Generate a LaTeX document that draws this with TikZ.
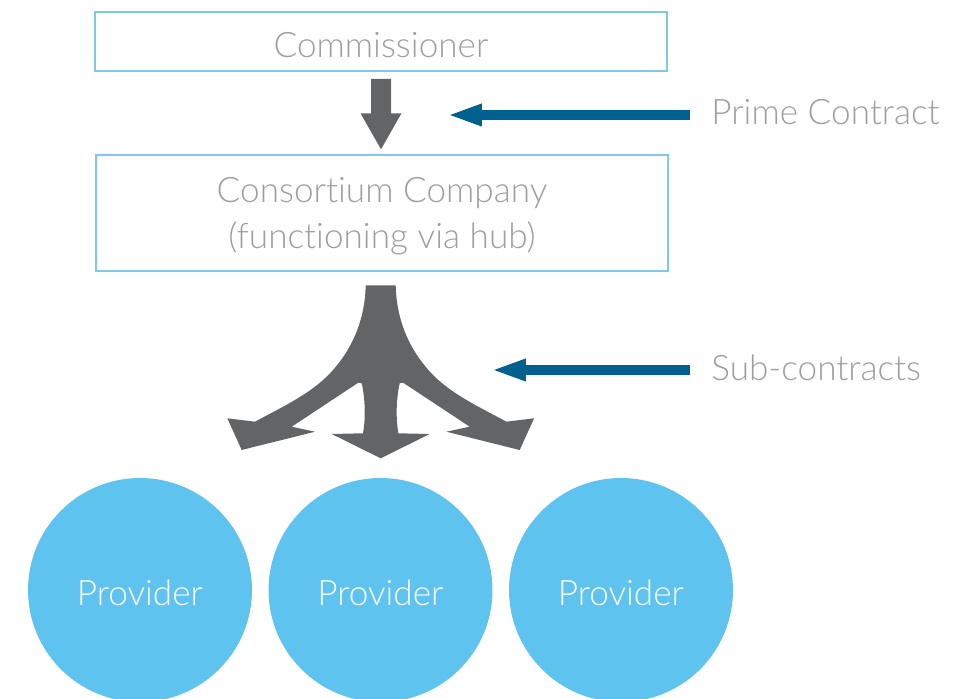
\documentclass[tikz,border=0pt]{standalone}
\usepackage{fontspec}
\setmainfont{Lato}[UprightFont=* Light, Ligatures=NoCommon]
\usetikzlibrary{arrows.meta}
\definecolor{boxline}{RGB}{125,201,236}
\definecolor{labelgrey}{RGB}{158,158,160}
\definecolor{arrowgrey}{RGB}{99,100,102}
\definecolor{contractblue}{RGB}{0,96,142}
\definecolor{providerblue}{RGB}{94,195,238}
\tikzset{
  partybox/.style={draw=boxline, line width=0.8pt, minimum width=11.44cm, text=labelgrey, align=center, font=\fontsize{20}{26.6}\selectfont},
  provider/.style={circle, fill=providerblue, minimum size=4.48cm, inner sep=0pt, text=white, text height=18pt, font=\fontsize{20}{24}\selectfont},
  contractlabel/.style={anchor=west, inner xsep=0.42cm, text=labelgrey, font=\fontsize{20}{24}\selectfont},
  contractarrow/.style={draw=contractblue, line width=0.19cm, -{Triangle[length=0.7cm, width=0.4cm]}}
}
\begin{document}
\begin{tikzpicture}[x=0.02cm, y=-0.02cm]
        \useasboundingbox (0,0) rectangle (957,699);
        \clip (0,0) rectangle (957,699);
        %boxes
        \node[partybox, minimum height=1.18cm, text height=18pt] (comm) at (381,41.5) {Commissioner};
        \node[partybox, minimum height=2.32cm, text depth=-3.5pt] (cons) at (382,213) {Consortium Company\\(functioning via hub)};
        
        %providers
        \node[provider] (prov1) at (140,590) {Provider};
        \node[provider] (prov2) at (380.5,590) {Provider};
        \node[provider] (prov3) at (621,590) {Provider};
        
        %block arrow between the boxes
        \fill[arrowgrey] (371,79) -- (391,79) -- (391,113.3) -- (401.5,113.3) -- (381,149.3)
            -- (360.5,113.3) -- (371,113.3) -- cycle;
        
        %three-way arrow down to the providers
        \fill[arrowgrey] (365.7,285.3)
            .. controls (365,320) and (352,350) .. (330,373.3)
            .. controls (310,394.5) and (280,408) .. (255,421.7)
            -- (227.3,418.3) -- (241.7,450) -- (315,431.7) -- (291.7,426.7)
            -- (358.3,382.7)
            -- (361.7,383.3) .. controls (365.5,400) and (365.5,420) .. (363,433.3)
            -- (331.7,434) -- (380.7,458.3) -- (429.7,434) -- (398.4,433.3)
            .. controls (395.9,420) and (395.9,400) .. (399.7,383.3)
            -- (403.1,382.7)
            -- (469.7,426.7) -- (446.4,431.7) -- (519.7,450) -- (534.1,418.3) -- (506.4,421.7)
            .. controls (481.4,408) and (451.4,394.5) .. (431.4,373.3)
            .. controls (409.4,350) and (396.4,320) .. (395.7,285.3) -- cycle;
        
        %contract labels
        \node[contractlabel] (prime) at (690,112) {Prime Contract};
        \node[contractlabel] (sub) at (690,368) {Sub-contracts};
        \coordinate (primetip) at (447,115);
        \coordinate (subtip) at (491,370);
        \draw[contractarrow] (prime.west |- primetip) -- (primetip);
        \draw[contractarrow] (sub.west |- subtip) -- (subtip);
        
        \end{tikzpicture}
\end{document}
